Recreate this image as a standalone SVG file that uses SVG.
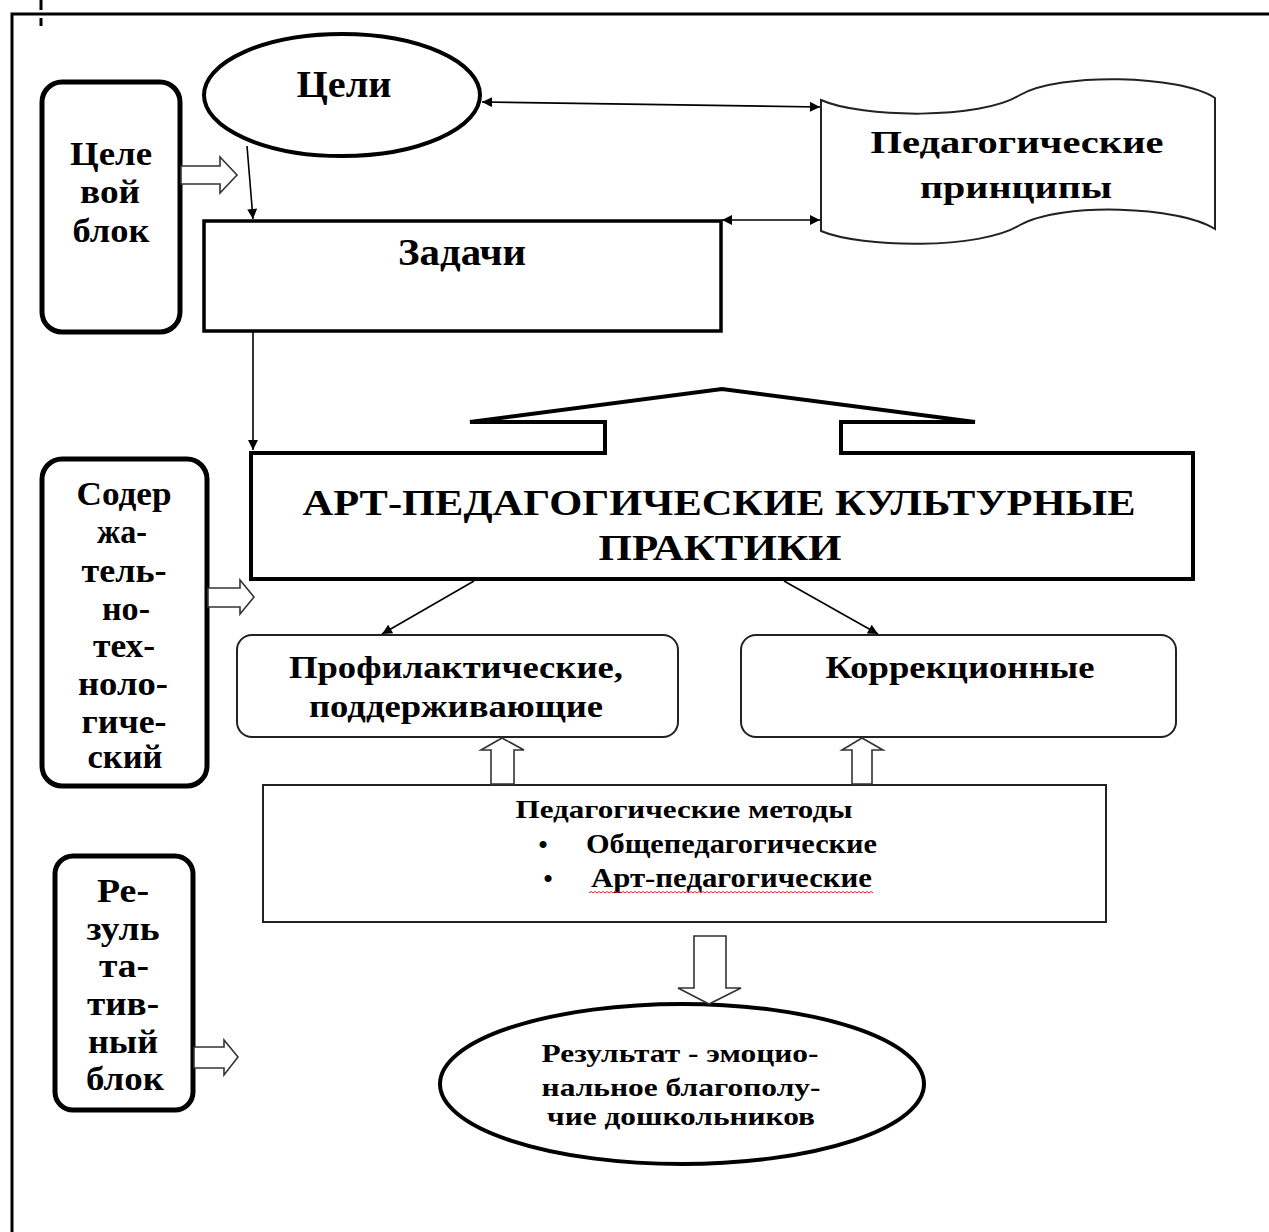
<svg xmlns="http://www.w3.org/2000/svg" width="1269" height="1232" viewBox="0 0 1269 1232">
<style>
text{font-family:"Liberation Serif","Times New Roman",serif;font-weight:bold;fill:#000;}
.c{text-anchor:middle;}
.thick{fill:#fff;stroke:#000;stroke-width:5;}
.med{fill:#fff;stroke:#000;stroke-width:4;}
.thin{fill:#fff;stroke:#222;stroke-width:2;}
.ln{fill:none;stroke:#000;stroke-width:1.6;}
.barr{fill:#fff;stroke:#333;stroke-width:1.6;stroke-linejoin:miter;}
</style>
<defs>
<marker id="ah" viewBox="0 0 10 10" refX="10" refY="5" markerWidth="12" markerHeight="10" orient="auto-start-reverse" markerUnits="userSpaceOnUse">
<path d="M0,0 L10,5 L0,10 z" fill="#000"/>
</marker>
</defs>
<rect width="1269" height="1232" fill="#fff"/>
<g id="frame">
<path d="M12,1232 V14 H1269" fill="none" stroke="#000" stroke-width="3"/>
<path d="M41,0 V10 M41,18 V26" fill="none" stroke="#000" stroke-width="3"/>
</g>

<g id="celevoy">
<rect x="42" y="82" width="138" height="250" rx="20" class="thick"/>
<text class="c" x="111" y="165" font-size="34" textLength="82" lengthAdjust="spacingAndGlyphs">Целе</text>
<text class="c" x="110" y="203" font-size="34" textLength="60" lengthAdjust="spacingAndGlyphs">вой</text>
<text class="c" x="111" y="242" font-size="34" textLength="77" lengthAdjust="spacingAndGlyphs">блок</text>
</g>

<g id="celi">
<ellipse cx="342" cy="95" rx="138" ry="61" class="med"/>
<text class="c" x="344" y="97" font-size="37" textLength="95" lengthAdjust="spacingAndGlyphs">Цели</text>
</g>

<g id="zadachi">
<rect x="204" y="221" width="517" height="110" fill="#fff" stroke="#000" stroke-width="3.5"/>
<text class="c" x="462" y="265" font-size="37" textLength="128" lengthAdjust="spacingAndGlyphs">Задачи</text>
</g>

<g id="principy">
<path d="M821,100 C861,118 981,120 1020,95 C1060,72 1180,75 1215,98 L1215,229 C1180,206 1060,202 1020,225 C981,250 861,248 821,231 Z" fill="#fff" stroke="#222" stroke-width="2"/>
<text class="c" x="1017" y="153" font-size="32" textLength="293" lengthAdjust="spacingAndGlyphs">Педагогические</text>
<text class="c" x="1016" y="198" font-size="32" textLength="192" lengthAdjust="spacingAndGlyphs">принципы</text>
</g>

<g id="art">
<path d="M605,422 L470,422 L722,389 L975,422 L841,422 L841,453 L1193,453 L1193,579 L251,579 L251,453 L605,453 Z" class="med"/>
<text class="c" x="719" y="515" font-size="35" textLength="833" lengthAdjust="spacingAndGlyphs">АРТ-ПЕДАГОГИЧЕСКИЕ КУЛЬТУРНЫЕ</text>
<text class="c" x="720" y="560" font-size="35" textLength="243" lengthAdjust="spacingAndGlyphs">ПРАКТИКИ</text>
</g>

<g id="soderzh">
<rect x="42" y="459" width="165" height="327" rx="20" class="thick"/>
<text class="c" x="124" y="505" font-size="33" textLength="95" lengthAdjust="spacingAndGlyphs">Содер</text>
<text class="c" x="122" y="543" font-size="33" textLength="50" lengthAdjust="spacingAndGlyphs">жа-</text>
<text class="c" x="124" y="582" font-size="33" textLength="85" lengthAdjust="spacingAndGlyphs">тель-</text>
<text class="c" x="126" y="620" font-size="33" textLength="48" lengthAdjust="spacingAndGlyphs">но-</text>
<text class="c" x="124" y="657" font-size="33" textLength="62" lengthAdjust="spacingAndGlyphs">тех-</text>
<text class="c" x="123" y="695" font-size="33" textLength="90" lengthAdjust="spacingAndGlyphs">ноло-</text>
<text class="c" x="124" y="733" font-size="33" textLength="85" lengthAdjust="spacingAndGlyphs">гиче-</text>
<text class="c" x="125" y="768" font-size="33" textLength="75" lengthAdjust="spacingAndGlyphs">ский</text>
</g>

<g id="profil">
<rect x="237" y="635" width="441" height="102" rx="15" class="thin"/>
<text class="c" x="456" y="678" font-size="32" textLength="334" lengthAdjust="spacingAndGlyphs">Профилактические,</text>
<text class="c" x="456" y="717" font-size="32" textLength="294" lengthAdjust="spacingAndGlyphs">поддерживающие</text>
</g>

<g id="korr">
<rect x="741" y="635" width="435" height="102" rx="15" class="thin"/>
<text class="c" x="960" y="678" font-size="32" textLength="269" lengthAdjust="spacingAndGlyphs">Коррекционные</text>
</g>

<g id="metody">
<rect x="263" y="785" width="843" height="137" class="thin"/>
<text class="c" x="684" y="818" font-size="26" textLength="337" lengthAdjust="spacingAndGlyphs">Педагогические методы</text>
<text class="c" x="543" y="853" font-size="26">•</text>
<text x="586" y="853" font-size="27" textLength="291" lengthAdjust="spacingAndGlyphs">Общепедагогические</text>
<text class="c" x="548" y="887" font-size="26">•</text>
<text x="591" y="887" font-size="27" textLength="281" lengthAdjust="spacingAndGlyphs">Арт-педагогические</text>
<path d="M589,893 l2,-1.5 l2,1.5 l2,-1.5 l2,1.5 l2,-1.5 l2,1.5 l2,-1.5 l2,1.5 l2,-1.5 l2,1.5 l2,-1.5 l2,1.5 l2,-1.5 l2,1.5 l2,-1.5 l2,1.5 l2,-1.5 l2,1.5 l2,-1.5 l2,1.5 l2,-1.5 l2,1.5 l2,-1.5 l2,1.5 l2,-1.5 l2,1.5 l2,-1.5 l2,1.5 l2,-1.5 l2,1.5 l2,-1.5 l2,1.5 l2,-1.5 l2,1.5 l2,-1.5 l2,1.5 l2,-1.5 l2,1.5 l2,-1.5 l2,1.5 l2,-1.5 l2,1.5 l2,-1.5 l2,1.5 l2,-1.5 l2,1.5 l2,-1.5 l2,1.5 l2,-1.5 l2,1.5 l2,-1.5 l2,1.5 l2,-1.5 l2,1.5 l2,-1.5 l2,1.5 l2,-1.5 l2,1.5 l2,-1.5 l2,1.5 l2,-1.5 l2,1.5 l2,-1.5 l2,1.5 l2,-1.5 l2,1.5 l2,-1.5 l2,1.5 l2,-1.5 l2,1.5 l2,-1.5 l2,1.5 l2,-1.5 l2,1.5 l2,-1.5 l2,1.5 l2,-1.5 l2,1.5 l2,-1.5 l2,1.5 l2,-1.5 l2,1.5 l2,-1.5 l2,1.5 l2,-1.5 l2,1.5 l2,-1.5 l2,1.5 l2,-1.5 l2,1.5 l2,-1.5 l2,1.5 l2,-1.5 l2,1.5 l2,-1.5 l2,1.5 l2,-1.5 l2,1.5 l2,-1.5 l2,1.5 l2,-1.5 l2,1.5 l2,-1.5 l2,1.5 l2,-1.5 l2,1.5 l2,-1.5 l2,1.5 l2,-1.5 l2,1.5 l2,-1.5 l2,1.5 l2,-1.5 l2,1.5 l2,-1.5 l2,1.5 l2,-1.5 l2,1.5 l2,-1.5 l2,1.5 l2,-1.5 l2,1.5 l2,-1.5 l2,1.5 l2,-1.5 l2,1.5 l2,-1.5 l2,1.5 l2,-1.5 l2,1.5 l2,-1.5 l2,1.5 l2,-1.5 l2,1.5 l2,-1.5 l2,1.5 l2,-1.5 l2,1.5 l2,-1.5 l2,1.5 l2,-1.5 l2,1.5" fill="none" stroke="#e02020" stroke-width="1"/>
</g>

<g id="rezultativ">
<rect x="55" y="856" width="138" height="254" rx="18" class="thick"/>
<text class="c" x="123" y="902" font-size="33" textLength="52" lengthAdjust="spacingAndGlyphs">Ре-</text>
<text class="c" x="123" y="940" font-size="33" textLength="73" lengthAdjust="spacingAndGlyphs">зуль</text>
<text class="c" x="124" y="977" font-size="33" textLength="50" lengthAdjust="spacingAndGlyphs">та-</text>
<text class="c" x="123" y="1015" font-size="33" textLength="72" lengthAdjust="spacingAndGlyphs">тив-</text>
<text class="c" x="123" y="1053" font-size="33" textLength="70" lengthAdjust="spacingAndGlyphs">ный</text>
<text class="c" x="125" y="1090" font-size="33" textLength="78" lengthAdjust="spacingAndGlyphs">блок</text>
</g>

<g id="rezultat">
<ellipse cx="682" cy="1084" rx="242" ry="80" class="med"/>
<text class="c" x="680" y="1062" font-size="26" textLength="277" lengthAdjust="spacingAndGlyphs">Результат - эмоцио-</text>
<text class="c" x="681" y="1096" font-size="26" textLength="279" lengthAdjust="spacingAndGlyphs">нальное благополу-</text>
<text class="c" x="681" y="1125" font-size="26" textLength="268" lengthAdjust="spacingAndGlyphs">чие дошкольников</text>
</g>

<g id="connectors">
<line x1="247" y1="146" x2="253" y2="219" class="ln" marker-end="url(#ah)"/>
<line x1="482" y1="102" x2="820" y2="107" class="ln" marker-start="url(#ah)" marker-end="url(#ah)"/>
<line x1="722" y1="220" x2="820" y2="220" class="ln" marker-start="url(#ah)" marker-end="url(#ah)"/>
<line x1="253" y1="332" x2="253" y2="450" class="ln" marker-end="url(#ah)"/>
<line x1="474" y1="581" x2="382" y2="634" class="ln" marker-end="url(#ah)"/>
<line x1="784" y1="581" x2="878" y2="634" class="ln" marker-end="url(#ah)"/>
<polygon class="barr" points="181,166 220,166 220,157 237,175 220,193 220,184 181,184"/>
<polygon class="barr" points="208,588 240,588 240,580 254,597 240,614 240,607 208,607"/>
<polygon class="barr" points="194,1047 224,1047 224,1040 238,1057 224,1075 224,1068 194,1068"/>
<polygon class="barr" points="491,784 491,750 481,750 502,738 524,750 514,750 514,784"/>
<polygon class="barr" points="852,784 852,750 842,750 862,738 883,750 872,750 872,784"/>
<polygon class="barr" points="694,936 726,936 726,988 741,988 709,1004 678,988 694,988"/>
</g>
</svg>
